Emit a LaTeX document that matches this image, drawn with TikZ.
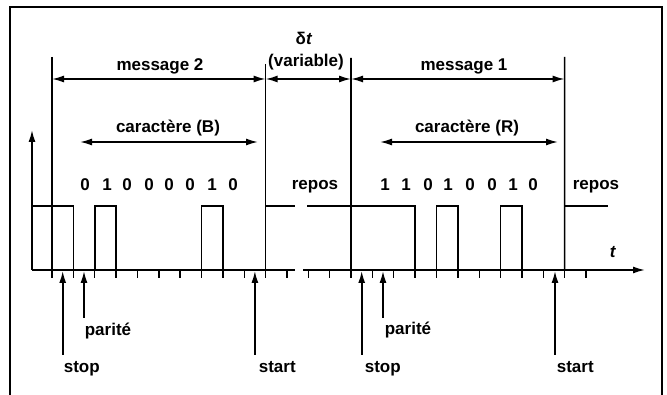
\documentclass[tikz,border=0pt]{standalone}
\usepackage{fontspec}
\setmainfont{Liberation Sans}
\usetikzlibrary{arrows.meta}
\begin{document}
\begin{tikzpicture}[x=1pt,y=-1pt,line width=1.7pt,line join=miter,
  lbl/.style={font=\fontsize{17}{19}\selectfont\bfseries,inner sep=0pt},
  dimarrow/.style={{Latex[length=12pt,width=7pt]}-{Latex[length=12pt,width=7pt]},line width=1.6pt},
  uparrow/.style={-{Latex[length=12pt,width=7pt]},line width=1.6pt},
  tickline/.style={line width=1.4pt},
  frameline/.style={line width=1.5pt}]
\useasboundingbox (0,0) rectangle (667,395);
% frame
\coordinate (fbl) at (10,397);
\coordinate (ftl) at (10,7);
\coordinate (ftr) at (662,7);
\coordinate (fbr) at (662,397);
\draw[frameline] (fbl) -- (ftl) -- (ftr) -- (fbr);
% tick positions
\def\P{21.36}
\foreach \k in {0,...,25}{
  \coordinate (t\k) at ({52+\k*\P},270);
  \coordinate (b\k) at ({52+\k*\P},278);
  \coordinate (h\k) at ({52+\k*\P},206);
}
% axes
\coordinate (o) at (32,270);
\coordinate (ytop) at (32,130);
\coordinate (gapL) at (295,270);
\coordinate (gapR) at (303,270);
\coordinate (xend) at (645,270);
\draw[uparrow,line width=1.7pt] (o) -- (ytop);
\draw (o) -- (gapL);
\draw[uparrow,line width=1.7pt] (gapR) -- (xend);
\node[lbl,anchor=base] (tlab) at (613,258) {\textit{t}};
% ticks
\foreach \k in {0,...,25}{\draw[tickline] (t\k) -- (b\k);}
% signal
\coordinate (s0) at (32,206);
\coordinate (sgL) at (295,206);
\coordinate (sgR) at (307,206);
\coordinate (send) at (608,206);
\draw (s0) -- (h1) -- (t1) -- (t2) -- (h2) -- (h3) -- (t3) -- (t7) -- (h7) -- (h8) -- (t8) -- (t10) -- (h10) -- (sgL);
\draw (sgR) -- (h17) -- (t17) -- (t18) -- (h18) -- (h19) -- (t19) -- (t21) -- (h21) -- (h22) -- (t22) -- (t24) -- (h24) -- (send);
% message boundaries
\coordinate (v0) at (52,57);
\coordinate (v10) at (265.6,64);
\coordinate (v14) at (351.04,58);
\coordinate (v24) at (564.6,57);
\draw (v0) -- (t0);
\draw (v10) -- (t10);
\draw (v14) -- (t14);
\draw (v24) -- (t24);
% dimension arrows
\coordinate (m2a) at (52,79);
\coordinate (m2b) at (265.6,79);
\coordinate (m1a) at (351.04,79);
\coordinate (m1b) at (564.6,79);
\draw[dimarrow] (m2a) -- (m2b);
\draw[dimarrow] (m2b) -- (m1a);
\draw[dimarrow] (m1a) -- (m1b);
\node[lbl,anchor=base] (msg2) at (160,71) {message 2};
\node[lbl,anchor=base] (msg1) at (464,71) {message 1};
\node[lbl,anchor=base] (dt) at (304,45) {δ\textit{t}};
\node[lbl,anchor=base] (var) at (306,67) {(variable)};
% character arrows
\coordinate (cBa) at (80,142);
\coordinate (cBb) at (258,142);
\coordinate (cRa) at (380,142);
\coordinate (cRb) at (558,142);
\draw[dimarrow] (cBa) -- (cBb);
\draw[dimarrow] (cRa) -- (cRb);
\node[lbl,anchor=base] (carB) at (168,133) {caractère (B)};
\node[lbl,anchor=base] (carR) at (467,133) {caractère (R)};
% bits
\foreach \x/\b [count=\i] in {85/0,107/1,127/0,149/0,169/0,190/0,212/1,233/0}
  {\node[lbl,anchor=base] (bB\i) at (\x,191) {\b};}
\foreach \x/\b [count=\i] in {385/1,406/1,428/0,448/1,470/0,492/0,513/1,533/0}
  {\node[lbl,anchor=base] (bR\i) at (\x,191) {\b};}
\node[lbl,anchor=base] (rep1) at (315,190) {repos};
\node[lbl,anchor=base] (rep2) at (596,190) {repos};
% pointer arrows
\coordinate (stopB0) at (62.7,355);
\coordinate (stopB1) at (62.7,271);
\coordinate (parB0) at (84,318);
\coordinate (parB1) at (84,271);
\coordinate (startB0) at (254.9,355);
\coordinate (startB1) at (254.9,271);
\coordinate (stopR0) at (361.7,355);
\coordinate (stopR1) at (361.7,271);
\coordinate (parR0) at (383,318);
\coordinate (parR1) at (383,271);
\coordinate (startR0) at (555,355);
\coordinate (startR1) at (555,271);
\foreach \a in {stopB,parB,startB,stopR,parR,startR}{\draw[uparrow] (\a0) -- (\a1);}
\node[lbl,anchor=base west] (lstopB) at (63,373) {stop};
\node[lbl,anchor=base west] (lparB) at (84,336) {parité};
\node[lbl,anchor=base west] (lstartB) at (258,373) {start};
\node[lbl,anchor=base west] (lstopR) at (364,373) {stop};
\node[lbl,anchor=base west] (lparR) at (384,335) {parité};
\node[lbl,anchor=base west] (lstartR) at (556,373) {start};
\end{tikzpicture}
\end{document}
